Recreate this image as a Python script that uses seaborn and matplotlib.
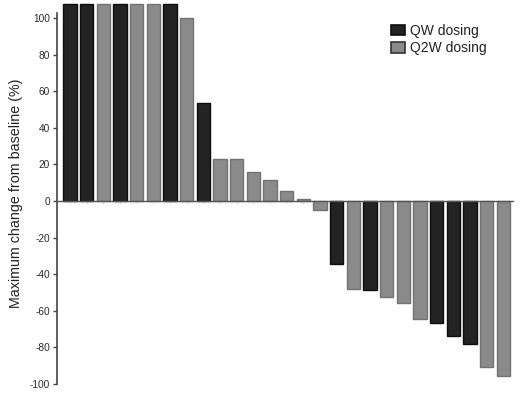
import matplotlib
matplotlib.use("Agg")
import matplotlib.pyplot as plt
import seaborn as sns
import pandas as pd
from matplotlib.patches import Patch

# Data
patients = [f"P{i}" for i in range(1, 28)]
dosing = ["QW", "QW", "Q2W", "QW", "Q2W", "Q2W", "QW", "Q2W", "QW",
          "Q2W", "Q2W", "Q2W", "Q2W", "Q2W", "Q2W", "Q2W",
          "QW", "Q2W", "QW", "Q2W", "Q2W", "Q2W", "QW", "QW", "QW", "Q2W", "Q2W"]
change = [107.5, 107.5, 107.5, 107.5, 107.5, 107.5, 107.5, 100, 53.5,
          22.8, 22.8, 16, 11.5, 5.5, 1.0, -4.9,
          -34.4, -48, -48.6, -52.6, -55.9, -64.7, -66.8, -73.8, -78.1, -90.9, -95.6]
legend_labels = ["QW dosing", "Q2W dosing"]
yticks = [-100, -80, -60, -40, -20, 0, 20, 40, 60, 80, 100]

df = pd.DataFrame({"patient": patients, "dosing": dosing, "change": change})

sns.set_style("white")
plt.rcParams["font.family"] = ["Liberation Sans", "DejaVu Sans"]

fill = {"QW": "#232323", "Q2W": "#8a8a8a"}
edge = {"QW": "#0e0e0e", "Q2W": "#727272"}

fig = plt.figure(figsize=(5.2, 3.97), dpi=100)
ax = fig.add_axes([57 / 520, 13 / 397, (513 - 57) / 520, (393.6 - 13) / 397])

sns.barplot(data=df, x="patient", y="change", hue="dosing", dodge=False,
            palette=fill, width=0.8, ax=ax, legend=False, order=patients,
            hue_order=["QW", "Q2W"], saturation=1)

for p in ax.patches:
    fc = matplotlib.colors.to_hex(p.get_facecolor())
    if fc == fill["QW"]:
        p.set_edgecolor(edge["QW"])
    else:
        p.set_edgecolor(edge["Q2W"])
    p.set_linewidth(1.0)

ax.set_ylim(-100, 108)
ax.set_xlim(-0.78, 26.58)
ax.set_yticks(yticks)
ax.set_yticklabels([str(v) for v in yticks], fontsize=7.3, color="#2a2a2a")
ax.set_xticks(range(len(patients)))
ax.set_xticklabels([])
ax.set_xlabel("")
ax.set_ylabel("Maximum change from baseline (%)", fontsize=10.3, color="#222222", labelpad=5)

for s in ["top", "right"]:
    ax.spines[s].set_visible(False)
ax.spines["bottom"].set_position(("data", 0))
ax.spines["bottom"].set_color("#555555")
ax.spines["bottom"].set_linewidth(1.0)
ax.spines["bottom"].set_zorder(5)
ax.spines["left"].set_color("#444444")
ax.spines["left"].set_linewidth(1.2)
ax.spines["left"].set_bounds(-100, 103)

ax.tick_params(axis="y", direction="out", length=3, width=1, color="#444444", pad=2, left=True)
ax.tick_params(axis="x", direction="out", length=2, width=0.6, color="#dddddd", bottom=True)

handles = [Patch(facecolor=fill["QW"], edgecolor="#0e0e0e", linewidth=1.2),
           Patch(facecolor=fill["Q2W"], edgecolor="#333333", linewidth=1.2)]
fig.legend(handles, legend_labels, loc="upper left", bbox_to_anchor=(384 / 520, 1 - 17 / 397),
           frameon=False, fontsize=10, handlelength=1.0, handleheight=0.8,
           handletextpad=0.4, labelspacing=0.25, borderpad=0, labelcolor="#222222")

fig.savefig("out.png", dpi=100)
